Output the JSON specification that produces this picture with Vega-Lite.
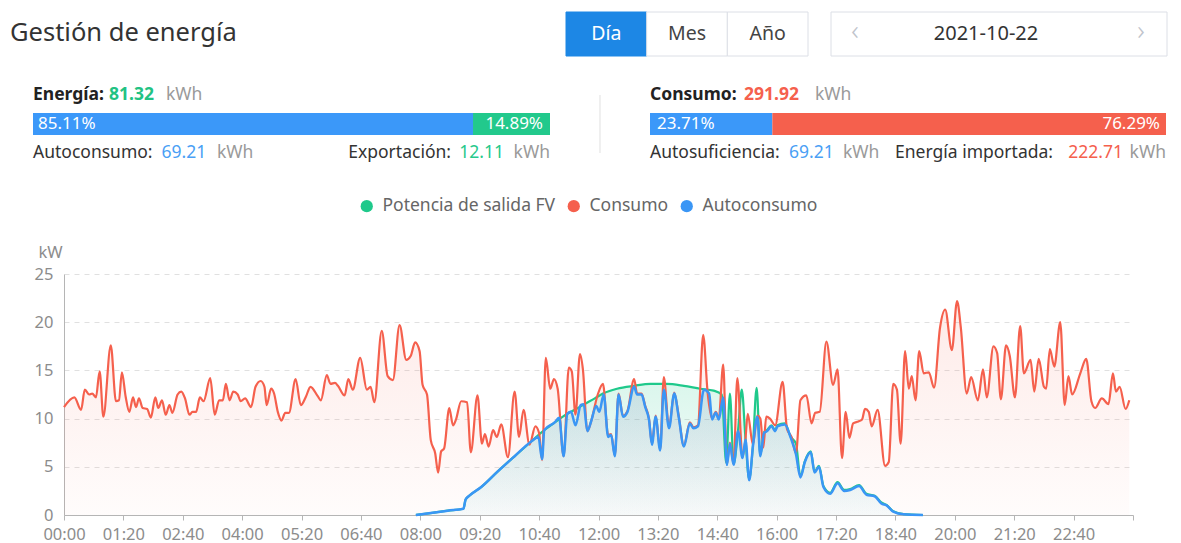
{
  "$schema": "https://vega.github.io/schema/vega-lite/v6.json",
  "width": 1069,
  "height": 241,
  "autosize": {"type": "none"},
  "padding": {"left": 64, "top": 274, "right": 48, "bottom": 28},
  "background": "#ffffff",
  "config": {"view": {"stroke": null}, "font": "Noto Sans"},
  "title": {"text": "Gestión de energía", "anchor": "start", "frame": "group", "orient": "top", "offset": 0, "dx": -54, "dy": 46.5, "baseline": "middle", "fontSize": 25.5, "fontWeight": "normal", "font": "Noto Sans", "color": "#333333"},
  "datasets": {
    "periodos": [
      {"periodo": "Día", "seleccionado": true},
      {"periodo": "Mes", "seleccionado": false},
      {"periodo": "Año", "seleccionado": false}
    ],
    "fecha": [{"dia": "2021-10-22"}],
    "resumen": [
      {"indicador": "Energía", "total": 81.32},
      {"indicador": "Consumo", "total": 291.92}
    ],
    "reparto": [
      {"indicador": "Energía", "parte": "Autoconsumo", "kWh": 69.21, "cuota": 0.8511},
      {"indicador": "Energía", "parte": "Exportación", "kWh": 12.11, "cuota": 0.1489},
      {"indicador": "Consumo", "parte": "Autosuficiencia", "kWh": 69.21, "cuota": 0.2371},
      {"indicador": "Consumo", "parte": "Energía importada", "kWh": 222.71, "cuota": 0.7629}
    ],
    "consumo": [
      {"minuto":0,"kW":11.2},{"minuto":14,"kW":12.2},{"minuto":23,"kW":10.9},{"minuto":28,"kW":13.0},{"minuto":34,"kW":12.5},{"minuto":38,"kW":12.6},{"minuto":43,"kW":12.2},{"minuto":48,"kW":14.9},{"minuto":53,"kW":10.2},{"minuto":63,"kW":17.6},{"minuto":70,"kW":11.8},{"minuto":74,"kW":11.9},{"minuto":78,"kW":14.8},{"minuto":83,"kW":12.3},{"minuto":88,"kW":10.7},{"minuto":93,"kW":12.2},{"minuto":97,"kW":11.2},{"minuto":101,"kW":12.1},{"minuto":106,"kW":11.1},{"minuto":112,"kW":11.0},{"minuto":117,"kW":10.1},{"minuto":123,"kW":12.2},{"minuto":127,"kW":11.1},{"minuto":132,"kW":11.9},{"minuto":137,"kW":10.4},{"minuto":142,"kW":11.4},{"minuto":146,"kW":10.6},{"minuto":153,"kW":12.5},{"minuto":158,"kW":12.8},{"minuto":163,"kW":12.1},{"minuto":169,"kW":10.4},{"minuto":173,"kW":10.7},{"minuto":178,"kW":10.7},{"minuto":183,"kW":12.2},{"minuto":188,"kW":11.8},{"minuto":197,"kW":14.2},{"minuto":203,"kW":10.4},{"minuto":209,"kW":11.9},{"minuto":214,"kW":11.9},{"minuto":218,"kW":13.6},{"minuto":223,"kW":11.9},{"minuto":228,"kW":12.8},{"minuto":234,"kW":12.5},{"minuto":238,"kW":11.8},{"minuto":244,"kW":12.1},{"minuto":252,"kW":11.2},{"minuto":258,"kW":13.3},{"minuto":265,"kW":13.9},{"minuto":270,"kW":13.3},{"minuto":273,"kW":11.4},{"minuto":279,"kW":13.1},{"minuto":283,"kW":12.6},{"minuto":288,"kW":10.7},{"minuto":293,"kW":9.8},{"minuto":298,"kW":10.6},{"minuto":303,"kW":10.6},{"minuto":312,"kW":14.1},{"minuto":319,"kW":11.4},{"minuto":326,"kW":12.3},{"minuto":332,"kW":13.3},{"minuto":342,"kW":12.3},{"minuto":346,"kW":11.9},{"minuto":354,"kW":14.5},{"minuto":359,"kW":13.6},{"minuto":365,"kW":13.7},{"minuto":369,"kW":13.4},{"minuto":378,"kW":12.4},{"minuto":383,"kW":14.1},{"minuto":389,"kW":13.0},{"minuto":399,"kW":16.3},{"minuto":408,"kW":13.0},{"minuto":413,"kW":13.3},{"minuto":418,"kW":11.7},{"minuto":428,"kW":19.1},{"minuto":436,"kW":14.4},{"minuto":443,"kW":14.0},{"minuto":452,"kW":19.7},{"minuto":461,"kW":16.1},{"minuto":467,"kW":16.5},{"minuto":473,"kW":17.9},{"minuto":479,"kW":17.0},{"minuto":483,"kW":13.5},{"minuto":489,"kW":12.5},{"minuto":494,"kW":7.8},{"minuto":500,"kW":6.4},{"minuto":504,"kW":4.4},{"minuto":508,"kW":6.6},{"minuto":512,"kW":6.9},{"minuto":519,"kW":11.1},{"minuto":524,"kW":9.3},{"minuto":528,"kW":9.9},{"minuto":535,"kW":11.8},{"minuto":543,"kW":11.7},{"minuto":548,"kW":6.5},{"minuto":557,"kW":12.4},{"minuto":563,"kW":7.4},{"minuto":567,"kW":8.4},{"minuto":572,"kW":7.1},{"minuto":578,"kW":8.8},{"minuto":583,"kW":8.1},{"minuto":589,"kW":9.4},{"minuto":598,"kW":6.0},{"minuto":607,"kW":12.8},{"minuto":613,"kW":8.1},{"minuto":619,"kW":10.9},{"minuto":627,"kW":7.3},{"minuto":635,"kW":9.2},{"minuto":640,"kW":8.5},{"minuto":644,"kW":5.7},{"minuto":649,"kW":16.3},{"minuto":655,"kW":13.1},{"minuto":660,"kW":14.1},{"minuto":665,"kW":13.1},{"minuto":673,"kW":6.1},{"minuto":680,"kW":15.3},{"minuto":684,"kW":14.9},{"minuto":689,"kW":10.4},{"minuto":695,"kW":16.7},{"minuto":699,"kW":15.1},{"minuto":705,"kW":8.7},{"minuto":710,"kW":9.7},{"minuto":719,"kW":12.5},{"minuto":726,"kW":13.6},{"minuto":733,"kW":8.3},{"minuto":737,"kW":8.4},{"minuto":742,"kW":6.2},{"minuto":747,"kW":12.6},{"minuto":753,"kW":10.3},{"minuto":759,"kW":10.8},{"minuto":768,"kW":14.1},{"minuto":772,"kW":12.6},{"minuto":778,"kW":12.6},{"minuto":783,"kW":11.3},{"minuto":788,"kW":10.0},{"minuto":792,"kW":7.4},{"minuto":797,"kW":10.3},{"minuto":803,"kW":6.8},{"minuto":808,"kW":14.3},{"minuto":815,"kW":9.1},{"minuto":822,"kW":12.7},{"minuto":828,"kW":10.3},{"minuto":835,"kW":7.2},{"minuto":843,"kW":9.6},{"minuto":848,"kW":9.1},{"minuto":854,"kW":9.3},{"minuto":861,"kW":18.7},{"minuto":867,"kW":12.7},{"minuto":873,"kW":10.0},{"minuto":878,"kW":10.7},{"minuto":882,"kW":10.0},{"minuto":888,"kW":15.6},{"minuto":893,"kW":5.3},{"minuto":897,"kW":7.5},{"minuto":902,"kW":5.3},{"minuto":907,"kW":14.2},{"minuto":914,"kW":6.0},{"minuto":918,"kW":7.9},{"minuto":921,"kW":10.5},{"minuto":928,"kW":7.3},{"minuto":934,"kW":10.3},{"minuto":938,"kW":10.0},{"minuto":942,"kW":7.0},{"minuto":946,"kW":10.2},{"minuto":951,"kW":10.0},{"minuto":958,"kW":9.3},{"minuto":968,"kW":13.8},{"minuto":974,"kW":8.9},{"minuto":980,"kW":8.1},{"minuto":986,"kW":6.4},{"minuto":992,"kW":11.9},{"minuto":1000,"kW":12.4},{"minuto":1007,"kW":9.5},{"minuto":1012,"kW":10.6},{"minuto":1018,"kW":10.7},{"minuto":1027,"kW":18.0},{"minuto":1036,"kW":13.5},{"minuto":1042,"kW":15.1},{"minuto":1048,"kW":5.9},{"minuto":1053,"kW":10.7},{"minuto":1058,"kW":8.0},{"minuto":1063,"kW":9.5},{"minuto":1070,"kW":9.7},{"minuto":1075,"kW":9.9},{"minuto":1079,"kW":11.0},{"minuto":1084,"kW":10.7},{"minuto":1088,"kW":9.2},{"minuto":1096,"kW":10.9},{"minuto":1106,"kW":5.1},{"minuto":1111,"kW":5.5},{"minuto":1117,"kW":13.6},{"minuto":1122,"kW":13.0},{"minuto":1127,"kW":7.4},{"minuto":1133,"kW":17.0},{"minuto":1138,"kW":13.1},{"minuto":1142,"kW":14.4},{"minuto":1147,"kW":11.9},{"minuto":1152,"kW":17.0},{"minuto":1158,"kW":14.7},{"minuto":1165,"kW":14.8},{"minuto":1172,"kW":13.2},{"minuto":1180,"kW":19.4},{"minuto":1187,"kW":21.3},{"minuto":1196,"kW":17.1},{"minuto":1203,"kW":22.2},{"minuto":1208,"kW":19.5},{"minuto":1216,"kW":12.6},{"minuto":1222,"kW":14.3},{"minuto":1231,"kW":11.9},{"minuto":1238,"kW":15.1},{"minuto":1243,"kW":12.2},{"minuto":1252,"kW":17.5},{"minuto":1257,"kW":16.8},{"minuto":1262,"kW":12.0},{"minuto":1269,"kW":17.6},{"minuto":1274,"kW":16.5},{"minuto":1281,"kW":12.2},{"minuto":1288,"kW":19.6},{"minuto":1293,"kW":14.7},{"minuto":1302,"kW":16.1},{"minuto":1307,"kW":12.8},{"minuto":1313,"kW":16.2},{"minuto":1320,"kW":13.3},{"minuto":1323,"kW":13.1},{"minuto":1328,"kW":17.2},{"minuto":1334,"kW":15.4},{"minuto":1342,"kW":20.0},{"minuto":1348,"kW":11.4},{"minuto":1353,"kW":14.4},{"minuto":1358,"kW":12.5},{"minuto":1369,"kW":14.7},{"minuto":1377,"kW":16.2},{"minuto":1384,"kW":11.8},{"minuto":1389,"kW":11.1},{"minuto":1398,"kW":12.1},{"minuto":1407,"kW":11.5},{"minuto":1413,"kW":14.7},{"minuto":1417,"kW":12.8},{"minuto":1422,"kW":13.3},{"minuto":1430,"kW":11.0},{"minuto":1435,"kW":11.9}
    ],
    "fv": [
      {"minuto":474,"kW":0},{"minuto":494,"kW":0.2},{"minuto":517,"kW":0.45},{"minuto":538,"kW":0.65},{"minuto":541,"kW":1.6},{"minuto":546,"kW":2.0},{"minuto":562,"kW":2.9},{"minuto":584,"kW":4.5},{"minuto":607,"kW":6.1},{"minuto":629,"kW":7.6},{"minuto":647,"kW":8.8},{"minuto":661,"kW":9.6},{"minuto":678,"kW":10.5},{"minuto":690,"kW":11.0},{"minuto":701,"kW":11.5},{"minuto":715,"kW":12.1},{"minuto":726,"kW":12.6},{"minuto":745,"kW":13.1},{"minuto":768,"kW":13.4},{"minuto":790,"kW":13.6},{"minuto":812,"kW":13.6},{"minuto":835,"kW":13.4},{"minuto":857,"kW":13.1},{"minuto":875,"kW":12.9},{"minuto":886,"kW":12.5},{"minuto":892,"kW":5.4},{"minuto":897,"kW":12.6},{"minuto":902,"kW":5.3},{"minuto":908,"kW":8.8},{"minuto":913,"kW":13.0},{"minuto":918,"kW":7.9},{"minuto":923,"kW":3.7},{"minuto":928,"kW":7.2},{"minuto":933,"kW":13.2},{"minuto":938,"kW":6.2},{"minuto":943,"kW":8.6},{"minuto":947,"kW":8.8},{"minuto":953,"kW":9.3},{"minuto":958,"kW":8.8},{"minuto":961,"kW":9.3},{"minuto":971,"kW":9.5},{"minuto":979,"kW":8.1},{"minuto":986,"kW":7.4},{"minuto":992,"kW":4.0},{"minuto":998,"kW":5.6},{"minuto":1006,"kW":6.6},{"minuto":1011,"kW":4.5},{"minuto":1017,"kW":5.1},{"minuto":1023,"kW":3.0},{"minuto":1032,"kW":2.3},{"minuto":1042,"kW":3.4},{"minuto":1051,"kW":2.6},{"minuto":1059,"kW":2.7},{"minuto":1071,"kW":3.1},{"minuto":1081,"kW":2.2},{"minuto":1092,"kW":2.0},{"minuto":1101,"kW":1.3},{"minuto":1108,"kW":1.05},{"minuto":1117,"kW":0.4},{"minuto":1131,"kW":0.1},{"minuto":1157,"kW":0}
    ],
    "autoconsumo": [
      {"minuto":474,"kW":0},{"minuto":494,"kW":0.2},{"minuto":517,"kW":0.45},{"minuto":538,"kW":0.65},{"minuto":541,"kW":1.6},{"minuto":546,"kW":2.0},{"minuto":562,"kW":2.9},{"minuto":584,"kW":4.5},{"minuto":607,"kW":6.1},{"minuto":629,"kW":7.6},{"minuto":639,"kW":8.1},{"minuto":644,"kW":5.8},{"minuto":647,"kW":8.8},{"minuto":661,"kW":9.6},{"minuto":667,"kW":10.1},{"minuto":673,"kW":6.1},{"minuto":678,"kW":10.5},{"minuto":683,"kW":10.7},{"minuto":689,"kW":9.3},{"minuto":696,"kW":11.4},{"minuto":700,"kW":11.5},{"minuto":705,"kW":8.7},{"minuto":710,"kW":9.7},{"minuto":717,"kW":11.3},{"minuto":721,"kW":10.7},{"minuto":727,"kW":12.5},{"minuto":733,"kW":8.1},{"minuto":737,"kW":8.3},{"minuto":742,"kW":6.1},{"minuto":747,"kW":12.5},{"minuto":753,"kW":10.2},{"minuto":759,"kW":10.7},{"minuto":768,"kW":13.3},{"minuto":772,"kW":12.5},{"minuto":778,"kW":12.5},{"minuto":783,"kW":11.2},{"minuto":788,"kW":9.9},{"minuto":792,"kW":7.3},{"minuto":797,"kW":10.2},{"minuto":803,"kW":6.7},{"minuto":808,"kW":13.0},{"minuto":815,"kW":9.0},{"minuto":822,"kW":12.6},{"minuto":828,"kW":10.2},{"minuto":835,"kW":7.1},{"minuto":843,"kW":9.5},{"minuto":848,"kW":9.0},{"minuto":854,"kW":9.2},{"minuto":862,"kW":13.0},{"minuto":869,"kW":12.6},{"minuto":873,"kW":9.9},{"minuto":878,"kW":10.6},{"minuto":882,"kW":9.9},{"minuto":888,"kW":12.2},{"minuto":893,"kW":5.2},{"minuto":897,"kW":7.4},{"minuto":902,"kW":5.2},{"minuto":908,"kW":8.7},{"minuto":914,"kW":5.9},{"minuto":918,"kW":7.8},{"minuto":923,"kW":3.6},{"minuto":928,"kW":7.1},{"minuto":934,"kW":10.2},{"minuto":938,"kW":6.1},{"minuto":943,"kW":8.5},{"minuto":947,"kW":8.7},{"minuto":953,"kW":9.2},{"minuto":958,"kW":8.7},{"minuto":961,"kW":9.2},{"minuto":971,"kW":9.4},{"minuto":979,"kW":8.0},{"minuto":986,"kW":6.3},{"minuto":992,"kW":3.9},{"minuto":998,"kW":5.5},{"minuto":1006,"kW":6.5},{"minuto":1011,"kW":4.4},{"minuto":1017,"kW":5.0},{"minuto":1023,"kW":2.9},{"minuto":1032,"kW":2.2},{"minuto":1042,"kW":3.3},{"minuto":1051,"kW":2.5},{"minuto":1059,"kW":2.6},{"minuto":1071,"kW":3.0},{"minuto":1081,"kW":2.1},{"minuto":1092,"kW":1.95},{"minuto":1101,"kW":1.2},{"minuto":1108,"kW":1.0},{"minuto":1117,"kW":0.35},{"minuto":1131,"kW":0.07},{"minuto":1157,"kW":0}
    ]
  },
  "layer": [
    {
      "encoding": {
        "x": {"field": "minuto", "type": "quantitative", "scale": {"domain": [0, 1440], "nice": false, "zero": false},
          "axis": {"values": [0,80,160,240,320,400,480,560,640,720,800,880,960,1040,1120,1200,1280,1360,1440],
            "labelExpr": "datum.value >= 1440 ? '' : (datum.value < 600 ? '0' : '') + floor(datum.value / 60) + ':' + (datum.value % 60 < 10 ? '0' : '') + (datum.value % 60)",
            "title": null, "grid": false, "domainColor": "#b5b5b5", "tickColor": "#b5b5b5", "tickSize": 5,
            "labelColor": "#8c8c8c", "labelFontSize": 16.5, "labelFont": "Noto Sans", "labelPadding": 6, "labelFlush": false, "labelOverlap": false}},
        "y": {"field": "kW", "type": "quantitative", "scale": {"domain": [0, 25], "nice": false},
          "axis": {"values": [0,5,10,15,20,25], "grid": true, "gridDash": [5,5], "gridColor": "#e0e0e0", "ticks": false,
            "domainColor": "#b5b5b5", "labelColor": "#8c8c8c", "labelFontSize": 16.5, "labelFont": "Noto Sans", "labelPadding": 11,
            "title": "kW", "titleAngle": 0, "titleX": -14, "titleY": -22, "titleAlign": "center", "titleBaseline": "middle",
            "titleFontWeight": "normal", "titleColor": "#8c8c8c", "titleFontSize": 16.5, "titleFont": "Noto Sans"}}
      },
      "layer": [
        {"data": {"name": "consumo"}, "mark": {"type": "area", "interpolate": "monotone",
          "fill": {"gradient": "linear", "x1": 0, "y1": 0, "x2": 0, "y2": 1, "stops": [{"offset": 0, "color": "rgba(245,96,77,0.13)"}, {"offset": 1, "color": "rgba(245,96,77,0.02)"}]}}},
        {"data": {"name": "fv"}, "mark": {"type": "area", "interpolate": "monotone",
          "fill": {"gradient": "linear", "x1": 0, "y1": 0, "x2": 0, "y2": 1, "stops": [{"offset": 0, "color": "rgba(31,201,139,0.16)"}, {"offset": 1, "color": "rgba(31,201,139,0.02)"}]}}},
        {"data": {"name": "autoconsumo"}, "mark": {"type": "area", "interpolate": "monotone",
          "fill": {"gradient": "linear", "x1": 0, "y1": 0, "x2": 0, "y2": 1, "stops": [{"offset": 0, "color": "rgba(58,150,245,0.13)"}, {"offset": 1, "color": "rgba(58,150,245,0.02)"}]}}},
        {"data": {"name": "fv"}, "mark": {"type": "line", "interpolate": "monotone", "strokeWidth": 2.2},
          "encoding": {"color": {"datum": "Potencia de salida FV", "type": "nominal",
            "scale": {"domain": ["Potencia de salida FV", "Consumo", "Autoconsumo"], "range": ["#1fc98b", "#f5604d", "#3a96f5"]},
            "legend": {"orient": "none", "legendX": 294, "legendY": -77, "direction": "horizontal", "title": null,
              "symbolType": "circle", "symbolSize": 150, "symbolStrokeWidth": 0, "labelFontSize": 17.5, "labelColor": "#666666",
              "labelFont": "Noto Sans", "labelLimit": 0, "columnPadding": 9, "labelOffset": 7, "padding": 0,
              "encode": {"symbols": {"update": {"fill": {"signal": "scale('color', datum.value)"}, "strokeWidth": {"value": 0}, "opacity": {"value": 1}}}}}}}},
        {"data": {"name": "consumo"}, "mark": {"type": "line", "interpolate": "monotone", "strokeWidth": 2.2},
          "encoding": {"color": {"datum": "Consumo", "type": "nominal"}}},
        {"data": {"name": "autoconsumo"}, "mark": {"type": "line", "interpolate": "monotone", "strokeWidth": 2.5},
          "encoding": {"color": {"datum": "Autoconsumo", "type": "nominal"}}}
      ]
    },
    {
      "layer": [
        {
          "data": {"name": "periodos"},
          "encoding": {
            "x": {"field": "periodo", "type": "nominal", "sort": null, "scale": {"type": "band", "range": [502, 744], "paddingInner": 0, "paddingOuter": 0}, "axis": null},
            "y": {"datum": "selector", "type": "nominal", "scale": {"type": "band", "domain": ["selector"], "range": [-262, -218], "paddingInner": 0, "paddingOuter": 0}, "axis": null}
          },
          "layer": [
            {"mark": {"type": "rect", "strokeWidth": 1},
              "encoding": {"fill": {"condition": {"test": "datum.seleccionado", "value": "#1d87e5"}, "value": "#ffffff"},
                "stroke": {"condition": {"test": "datum.seleccionado", "value": "#1d87e5"}, "value": "#dcdfe6"}}},
            {"mark": {"type": "text", "fontSize": 19.5, "baseline": "middle", "font": "Noto Sans"},
              "encoding": {"text": {"field": "periodo"}, "color": {"condition": {"test": "datum.seleccionado", "value": "#ffffff"}, "value": "#444444"}}}
          ]
        },
        {
          "data": {"name": "fecha"},
          "encoding": {
            "x": {"field": "dia", "type": "nominal", "scale": {"type": "band", "range": [767, 1103], "paddingInner": 0, "paddingOuter": 0}, "axis": null},
            "y": {"datum": "selector", "type": "nominal", "axis": null}
          },
          "layer": [
            {"mark": {"type": "rect", "fill": "#ffffff", "stroke": "#dcdfe6", "strokeWidth": 1}},
            {"mark": {"type": "text", "fontSize": 20, "baseline": "middle", "dx": -13, "color": "#333333", "font": "Noto Sans"}, "encoding": {"text": {"field": "dia"}}},
            {"mark": {"type": "text", "fontSize": 28, "baseline": "middle", "dx": -144, "dy": -2, "color": "#c0c4cc", "font": "Noto Sans", "fontWeight": 300}, "encoding": {"text": {"value": "‹"}}},
            {"mark": {"type": "text", "fontSize": 28, "baseline": "middle", "dx": 142, "dy": -2, "color": "#c0c4cc", "font": "Noto Sans", "fontWeight": 300}, "encoding": {"text": {"value": "›"}}}
          ]
        }
      ],
      "resolve": {"scale": {"x": "independent"}}
    },
    {
      "data": {"name": "reparto"},
      "transform": [
        {"filter": "datum.indicador === 'Energía'"},
        {"stack": "cuota", "groupby": ["indicador"], "sort": [{"field": "parte", "order": "ascending"}], "as": ["desde", "hasta"]}
      ],
      "layer": [
        {"mark": {"type": "bar", "size": 22},
          "encoding": {
            "x": {"field": "desde", "type": "quantitative", "scale": {"domain": [0, 1], "range": [-31, 486], "nice": false, "zero": false}, "axis": null},
            "x2": {"field": "hasta"},
            "y": {"datum": "barra", "type": "nominal", "scale": {"type": "point", "domain": ["cabecera", "barra", "pie"], "range": [-179, -121], "padding": 0}, "axis": null},
            "color": {"condition": {"test": "datum.parte === 'Autoconsumo'", "value": "#3b98f9"}, "value": "#22c98c"}}},
        {"transform": [{"filter": "datum.parte === 'Autoconsumo'"}],
          "mark": {"type": "text", "align": "left", "baseline": "middle", "dx": 5, "fontSize": 17, "color": "#ffffff"},
          "encoding": {"x": {"field": "desde", "type": "quantitative"}, "y": {"datum": "barra", "type": "nominal"}, "text": {"field": "cuota", "type": "quantitative", "format": ".2%"}}},
        {"transform": [{"filter": "datum.parte === 'Exportación'"}],
          "mark": {"type": "text", "align": "right", "baseline": "middle", "dx": -7, "fontSize": 17, "color": "#ffffff"},
          "encoding": {"x": {"field": "hasta", "type": "quantitative"}, "y": {"datum": "barra", "type": "nominal"}, "text": {"field": "cuota", "type": "quantitative", "format": ".2%"}}},
        {"transform": [{"filter": "datum.parte === 'Autoconsumo'"}],
          "mark": {"type": "text", "align": "left", "baseline": "middle", "fontSize": 17.5, "color": "#333333"},
          "encoding": {"x": {"datum": 0, "type": "quantitative"}, "y": {"datum": "pie", "type": "nominal"}, "text": {"value": "Autoconsumo:"}}},
        {"transform": [{"filter": "datum.parte === 'Autoconsumo'"}],
          "mark": {"type": "text", "align": "left", "baseline": "middle", "dx": 128.5, "fontSize": 17.5, "color": "#4a9ff5"},
          "encoding": {"x": {"datum": 0, "type": "quantitative"}, "y": {"datum": "pie", "type": "nominal"}, "text": {"field": "kWh", "type": "quantitative", "format": ".2f"}}},
        {"transform": [{"filter": "datum.parte === 'Autoconsumo'"}],
          "mark": {"type": "text", "align": "left", "baseline": "middle", "dx": 184, "fontSize": 17.5, "color": "#9a9a9a"},
          "encoding": {"x": {"datum": 0, "type": "quantitative"}, "y": {"datum": "pie", "type": "nominal"}, "text": {"value": "kWh"}}},
        {"transform": [{"filter": "datum.parte === 'Exportación'"}],
          "mark": {"type": "text", "align": "right", "baseline": "middle", "dx": -99, "fontSize": 17.5, "color": "#333333"},
          "encoding": {"x": {"datum": 1, "type": "quantitative"}, "y": {"datum": "pie", "type": "nominal"}, "text": {"value": "Exportación:"}}},
        {"transform": [{"filter": "datum.parte === 'Exportación'"}],
          "mark": {"type": "text", "align": "right", "baseline": "middle", "dx": -46, "fontSize": 17.5, "color": "#27c98c"},
          "encoding": {"x": {"datum": 1, "type": "quantitative"}, "y": {"datum": "pie", "type": "nominal"}, "text": {"field": "kWh", "type": "quantitative", "format": ".2f"}}},
        {"transform": [{"filter": "datum.parte === 'Exportación'"}],
          "mark": {"type": "text", "align": "right", "baseline": "middle", "fontSize": 17.5, "color": "#9a9a9a"},
          "encoding": {"x": {"datum": 1, "type": "quantitative"}, "y": {"datum": "pie", "type": "nominal"}, "text": {"value": "kWh"}}},
        {"data": {"name": "resumen"}, "transform": [{"filter": "datum.indicador === 'Energía'"}],
          "mark": {"type": "text", "align": "left", "baseline": "middle", "fontSize": 17.5, "fontWeight": "bold", "color": "#222222"},
          "encoding": {"x": {"datum": 0, "type": "quantitative"}, "y": {"datum": "cabecera", "type": "nominal"}, "text": {"value": "Energía:"}}},
        {"data": {"name": "resumen"}, "transform": [{"filter": "datum.indicador === 'Energía'"}],
          "mark": {"type": "text", "align": "left", "baseline": "middle", "dx": 76, "fontSize": 17.5, "fontWeight": "bold", "color": "#22c283"},
          "encoding": {"x": {"datum": 0, "type": "quantitative"}, "y": {"datum": "cabecera", "type": "nominal"}, "text": {"field": "total", "type": "quantitative", "format": ".2f"}}},
        {"data": {"name": "resumen"}, "transform": [{"filter": "datum.indicador === 'Energía'"}],
          "mark": {"type": "text", "align": "left", "baseline": "middle", "dx": 133, "fontSize": 17.5, "color": "#9a9a9a"},
          "encoding": {"x": {"datum": 0, "type": "quantitative"}, "y": {"datum": "cabecera", "type": "nominal"}, "text": {"value": "kWh"}}},
        {"data": {"name": "resumen"}, "transform": [{"filter": "datum.indicador === 'Energía'"}],
          "mark": {"type": "rule", "color": "#e0e0e0", "strokeWidth": 1},
          "encoding": {"x": {"datum": 1.0967, "type": "quantitative"}, "y": {"datum": "cabecera", "type": "nominal"}, "y2": {"datum": "pie"}}}
      ]
    },
    {
      "data": {"name": "reparto"},
      "transform": [
        {"filter": "datum.indicador === 'Consumo'"},
        {"stack": "cuota", "groupby": ["indicador"], "sort": [{"field": "parte", "order": "ascending"}], "as": ["desde", "hasta"]}
      ],
      "layer": [
        {"mark": {"type": "bar", "size": 22},
          "encoding": {
            "x": {"field": "desde", "type": "quantitative", "scale": {"domain": [0, 1], "range": [586, 1102], "nice": false, "zero": false}, "axis": null},
            "x2": {"field": "hasta"},
            "y": {"datum": "barra", "type": "nominal", "scale": {"type": "point", "domain": ["cabecera", "barra", "pie"], "range": [-179, -121], "padding": 0}, "axis": null},
            "color": {"condition": {"test": "datum.parte === 'Autosuficiencia'", "value": "#3b98f9"}, "value": "#f5604d"}}},
        {"transform": [{"filter": "datum.parte === 'Autosuficiencia'"}],
          "mark": {"type": "text", "align": "left", "baseline": "middle", "dx": 7, "fontSize": 17, "color": "#ffffff"},
          "encoding": {"x": {"field": "desde", "type": "quantitative"}, "y": {"datum": "barra", "type": "nominal"}, "text": {"field": "cuota", "type": "quantitative", "format": ".2%"}}},
        {"transform": [{"filter": "datum.parte === 'Energía importada'"}],
          "mark": {"type": "text", "align": "right", "baseline": "middle", "dx": -6, "fontSize": 17, "color": "#ffffff"},
          "encoding": {"x": {"field": "hasta", "type": "quantitative"}, "y": {"datum": "barra", "type": "nominal"}, "text": {"field": "cuota", "type": "quantitative", "format": ".2%"}}},
        {"transform": [{"filter": "datum.parte === 'Autosuficiencia'"}],
          "mark": {"type": "text", "align": "left", "baseline": "middle", "fontSize": 17.5, "color": "#333333"},
          "encoding": {"x": {"datum": 0, "type": "quantitative"}, "y": {"datum": "pie", "type": "nominal"}, "text": {"value": "Autosuficiencia:"}}},
        {"transform": [{"filter": "datum.parte === 'Autosuficiencia'"}],
          "mark": {"type": "text", "align": "left", "baseline": "middle", "dx": 139, "fontSize": 17.5, "color": "#4a9ff5"},
          "encoding": {"x": {"datum": 0, "type": "quantitative"}, "y": {"datum": "pie", "type": "nominal"}, "text": {"field": "kWh", "type": "quantitative", "format": ".2f"}}},
        {"transform": [{"filter": "datum.parte === 'Autosuficiencia'"}],
          "mark": {"type": "text", "align": "left", "baseline": "middle", "dx": 193, "fontSize": 17.5, "color": "#9a9a9a"},
          "encoding": {"x": {"datum": 0, "type": "quantitative"}, "y": {"datum": "pie", "type": "nominal"}, "text": {"value": "kWh"}}},
        {"transform": [{"filter": "datum.parte === 'Energía importada'"}],
          "mark": {"type": "text", "align": "right", "baseline": "middle", "dx": -113, "fontSize": 17.5, "color": "#333333"},
          "encoding": {"x": {"datum": 1, "type": "quantitative"}, "y": {"datum": "pie", "type": "nominal"}, "text": {"value": "Energía importada:"}}},
        {"transform": [{"filter": "datum.parte === 'Energía importada'"}],
          "mark": {"type": "text", "align": "right", "baseline": "middle", "dx": -43, "fontSize": 17.5, "color": "#f5604d"},
          "encoding": {"x": {"datum": 1, "type": "quantitative"}, "y": {"datum": "pie", "type": "nominal"}, "text": {"field": "kWh", "type": "quantitative", "format": ".2f"}}},
        {"transform": [{"filter": "datum.parte === 'Energía importada'"}],
          "mark": {"type": "text", "align": "right", "baseline": "middle", "fontSize": 17.5, "color": "#9a9a9a"},
          "encoding": {"x": {"datum": 1, "type": "quantitative"}, "y": {"datum": "pie", "type": "nominal"}, "text": {"value": "kWh"}}},
        {"data": {"name": "resumen"}, "transform": [{"filter": "datum.indicador === 'Consumo'"}],
          "mark": {"type": "text", "align": "left", "baseline": "middle", "fontSize": 17.5, "fontWeight": "bold", "color": "#222222"},
          "encoding": {"x": {"datum": 0, "type": "quantitative"}, "y": {"datum": "cabecera", "type": "nominal"}, "text": {"value": "Consumo:"}}},
        {"data": {"name": "resumen"}, "transform": [{"filter": "datum.indicador === 'Consumo'"}],
          "mark": {"type": "text", "align": "left", "baseline": "middle", "dx": 94, "fontSize": 17.5, "fontWeight": "bold", "color": "#f5604d"},
          "encoding": {"x": {"datum": 0, "type": "quantitative"}, "y": {"datum": "cabecera", "type": "nominal"}, "text": {"field": "total", "type": "quantitative", "format": ".2f"}}},
        {"data": {"name": "resumen"}, "transform": [{"filter": "datum.indicador === 'Consumo'"}],
          "mark": {"type": "text", "align": "left", "baseline": "middle", "dx": 165, "fontSize": 17.5, "color": "#9a9a9a"},
          "encoding": {"x": {"datum": 0, "type": "quantitative"}, "y": {"datum": "cabecera", "type": "nominal"}, "text": {"value": "kWh"}}}
      ]
    }
  ],
  "resolve": {"scale": {"x": "independent", "y": "independent"}}
}
